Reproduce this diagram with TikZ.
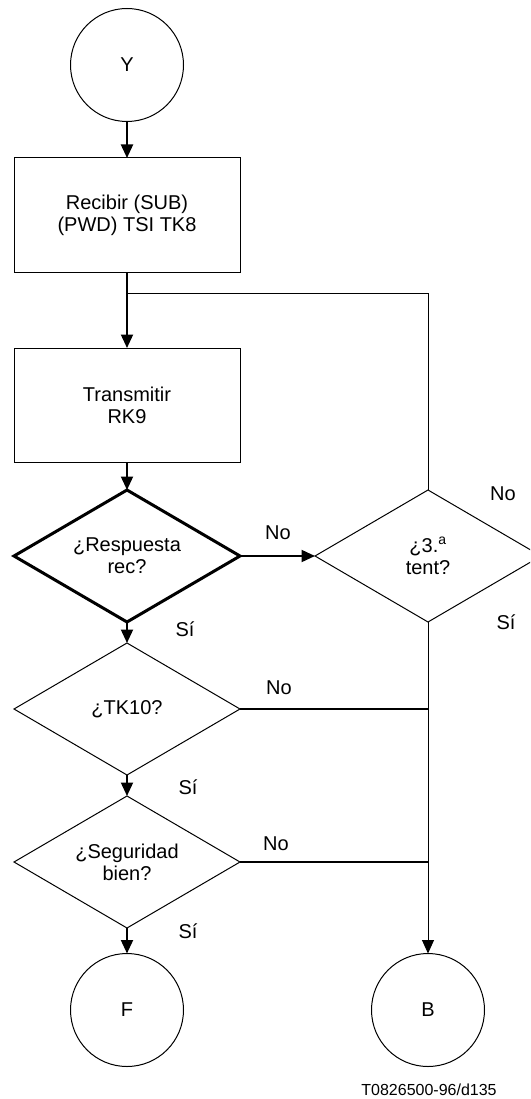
\documentclass[tikz,border=0pt]{standalone}
\usepackage{fontspec}
\setmainfont{Liberation Sans}
\usetikzlibrary{shapes.geometric,arrows.meta}
\begin{document}
\begin{tikzpicture}[x=1pt,y=-1pt,
  every node/.style={font=\fontsize{20}{22}\selectfont},
  term/.style={circle,draw,line width=1pt,minimum size=113pt,inner sep=0pt,outer sep=0pt},
  proc/.style={rectangle,draw,line width=1pt,minimum width=226pt,minimum height=114pt,align=center,inner sep=0pt,outer sep=0pt},
  dec/.style={diamond,draw,line width=1pt,minimum width=226pt,minimum height=132pt,aspect=1.71,align=center,inner sep=0pt,outer sep=0pt},
  deck/.style={dec,line width=3pt},
  tip/.style={-{Triangle[length=13.5pt,width=12pt]}},
  flow/.style={line width=2pt,tip},
  link/.style={line width=1pt},
  bold/.style={line width=2pt},
  lbl/.style={inner sep=0pt}
]
\useasboundingbox (0,0) rectangle (530,1099);
\clip (0,0) rectangle (530,1099);

\node[term] (Y) at (127,65) {Y};
\node[proc] (R1) at (127,215) {Recibir (SUB)\\(PWD) TSI TK8};
\coordinate (J) at (127,293);
\node[proc] (R2) at (127,405) {Transmitir\\RK9};
\node[deck] (D1) at (127,556) {¿Respuesta\\rec?};
\node[dec] (D2) at (428,556) {¿3.\textsuperscript{a}\\tent?};
\node[dec] (D3) at (127,709) {¿TK10?};
\node[dec] (D4) at (127,862) {¿Seguridad\\bien?};
\node[term] (F) at (127,1010) {F};
\node[term] (B) at (428,1010) {B};
\node[lbl,font=\fontsize{16}{18}\selectfont] (ft) at (429,1090) {T0826500-96/d135};

\node[lbl] (n1) at (278,533) {No};
\node[lbl] (n2) at (503,494) {No};
\node[lbl] (s2) at (506,622) {Sí};
\node[lbl] (s1) at (185,629) {Sí};
\node[lbl] (n3) at (279,688) {No};
\node[lbl] (s3) at (188,787) {Sí};
\node[lbl] (n4) at (276,844) {No};
\node[lbl] (s4) at (188,931) {Sí};

\draw[flow] (Y.south) -- (R1.north);
\draw[flow] (R1.south) -- (R2.north);
\draw[link] (D2.north) |- (J);
\draw[flow] (R2.south) -- (D1.north);
\draw[flow] (D1.east) -- (D2.west);
\draw[flow] (D1.south) -- (D3.north);
\draw[bold] (D3.east) -- (D3.east -| D2.south);
\draw[flow] (D3.south) -- (D4.north);
\draw[bold] (D4.east) -- (D4.east -| D2.south);
\draw[flow] (D4.south) -- (F.north);
\draw[link,tip] (D2.south) -- (B.north);
\end{tikzpicture}
\end{document}
